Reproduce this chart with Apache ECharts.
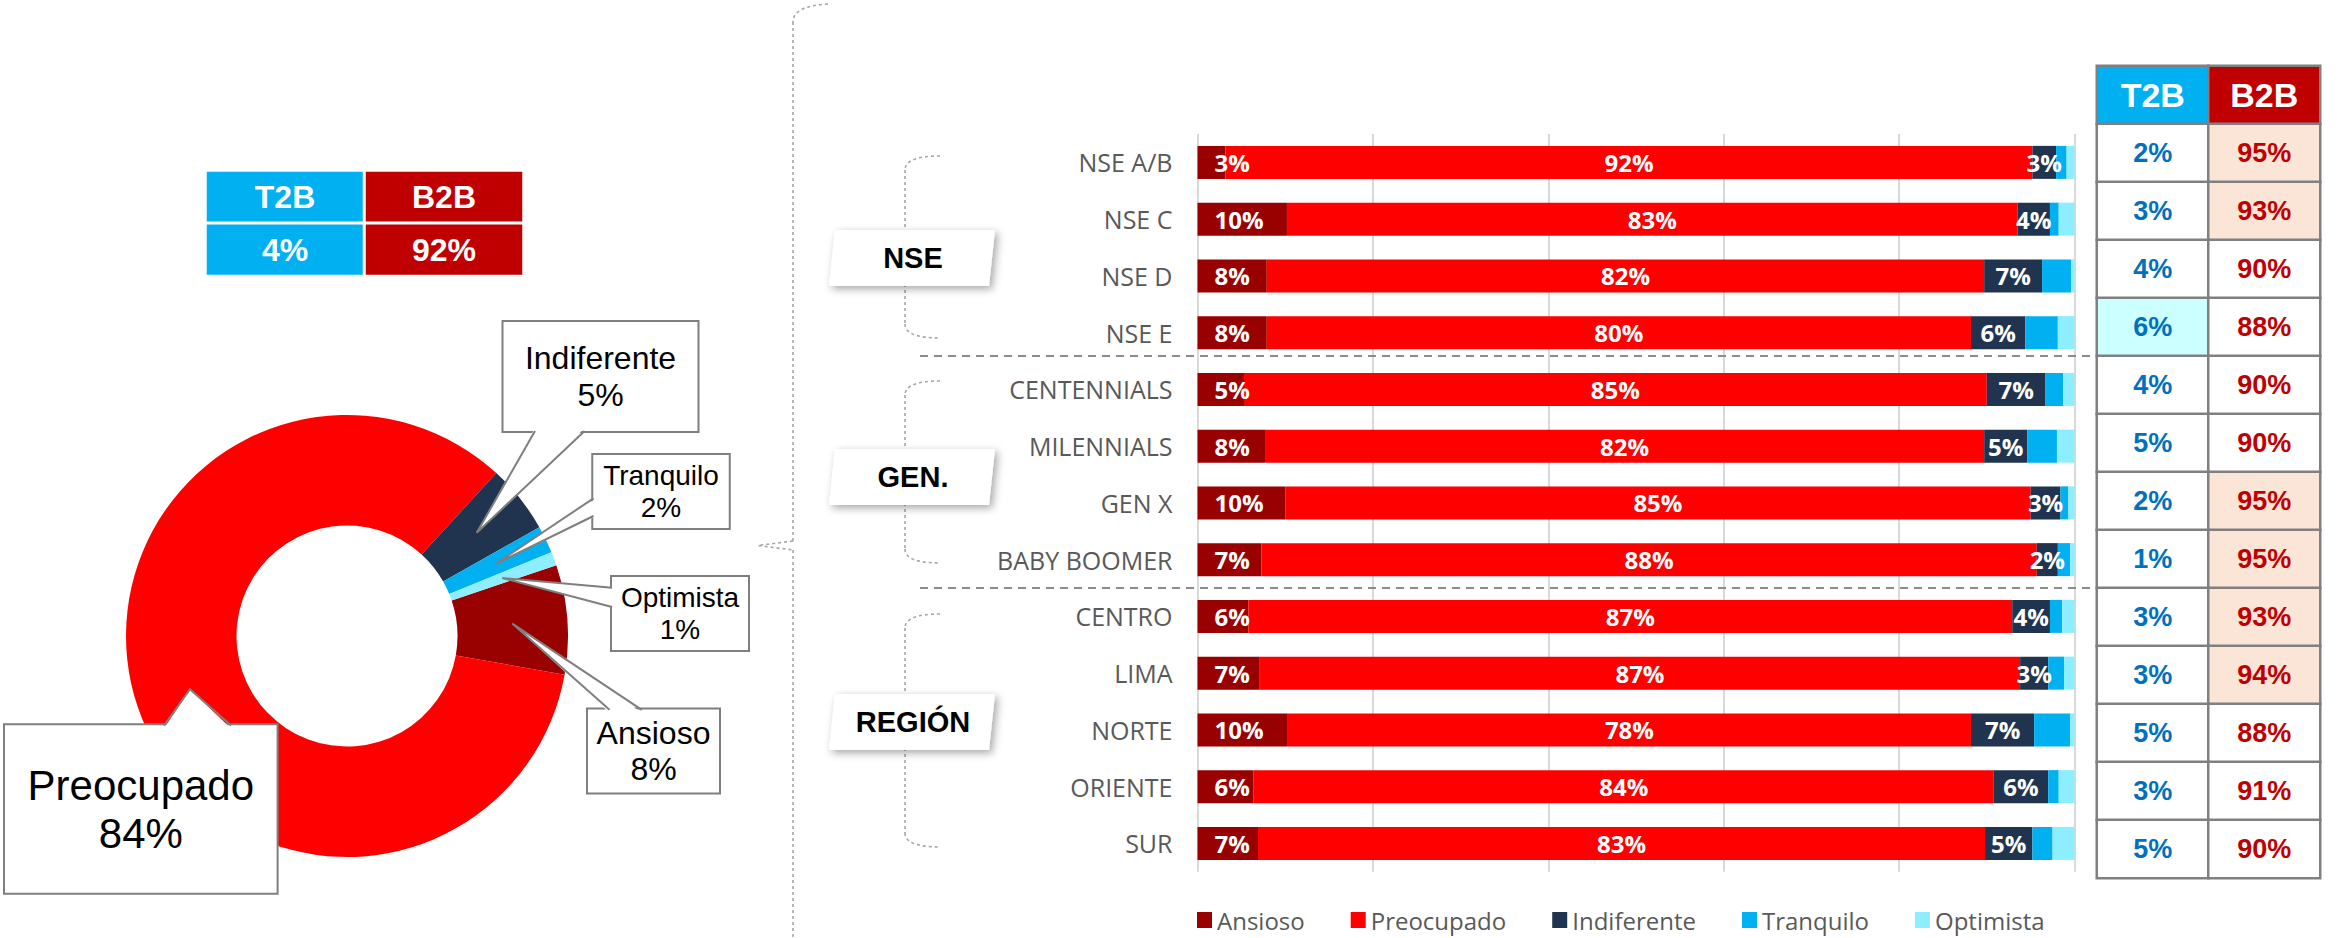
<!DOCTYPE html>
<html><head><meta charset="utf-8">
<script src="https://cdn.jsdelivr.net/npm/echarts@6/dist/echarts.min.js"></script>
<style>html,body{margin:0;padding:0;background:#fff}#c{width:2339px;height:938px}</style>
</head><body><div id="c"></div>
<script>
// ---------------- DATA ----------------
const categories = ['NSE A/B','NSE C','NSE D','NSE E','CENTENNIALS','MILENNIALS','GEN X','BABY BOOMER','CENTRO','LIMA','NORTE','ORIENTE','SUR'];
const seriesNames = ['Ansioso','Preocupado','Indiferente','Tranquilo','Optimista'];
const ansioso     = [3.2,10.2,7.9,7.9,5.3,7.7,10.0,7.3,5.8,7.1,10.3,6.4,6.9];
const preocupado  = [92.0,83.3,81.8,80.3,84.7,82.0,85.0,88.4,87.1,86.7,77.9,84.4,82.9];
const indiferente = [2.7,3.7,6.6,6.2,6.7,4.9,3.4,2.4,4.3,3.2,7.2,6.2,5.4];
const tranquilo   = [1.2,1.0,3.3,3.7,2.0,3.4,0.9,1.4,1.4,1.8,4.1,1.2,2.3];
const optimista   = [0.9,1.8,0.4,1.9,1.3,2.0,0.7,0.5,1.4,1.2,0.5,1.8,2.5];
const tableCols = ['T2B','B2B'];
const t2b = [2,3,4,6,4,5,2,1,3,3,5,3,5];
const b2b = [95,93,90,88,90,90,95,95,93,94,88,91,90];
const pieValues = [8,84,5,2,1];
const totalSummary = [4,92];
const groupNames = ['NSE','GEN.','REGIÓN'];

// ---------------- LAYOUT / STYLE ----------------
const colors = {Ansioso:'#990000', Preocupado:'#FF0000', Indiferente:'#203450', Tranquilo:'#00B0F0', Optimista:'#8DEEFF'};
const BAR = {left:1197.5, top:134, width:877, height:737.75};
const TAB = {left:2097, top:66, width:223, rowH:58};
const SUM = {left:205.5, top:170.5, width:318, height:105.5};
const PIE = {cx:347, cy:636, r0:110.5, r:221, start:18.7};
const callouts = [
  {cx:653.5, cy:751,   w:131,   h:83,    fs:32, lh:36, base:[[609.5,709.8],[641.8,709.8]], dir:'top'},
  {cx:140.8, cy:809,   w:271.6, h:167.4, fs:42, lh:48, base:[[164,725.6],[231,725.6]],     dir:'top'},
  {cx:600.5, cy:376.5, w:194,   h:109,   fs:32, lh:37, base:[[535,431],[584.6,431]],       dir:'bottom'},
  {cx:661,   cy:491.4, w:135.5, h:73,    fs:28, lh:32, base:[[593.5,498.3],[593.5,516]],   dir:'left'},
  {cx:680,   cy:613.4, w:136,   h:73,    fs:28, lh:32, base:[[612,587.8],[612,607]],       dir:'left'}
];
const groupLayout = [
  {cy:258, top:156, bottom:338},
  {cy:477, top:381, bottom:563},
  {cy:722, top:614, bottom:847}
];
const separatorsAfterRows = [4,8];

const seriesVals = [ansioso, preocupado, indiferente, tranquilo, optimista];
const chart = echarts.init(document.getElementById('c'), null, {renderer:'svg'});

// bar series
const barSeries = seriesNames.map((n, si) => ({
  type:'bar', name:n, stack:'s', data:seriesVals[si], barWidth:33,
  xAxisIndex:0, yAxisIndex:0,
  itemStyle:{color:colors[n]},
  emphasis:{disabled:true},
  label: si < 3 ? {
    show:true, position: si === 0 ? 'insideLeft' : 'inside', distance: si === 0 ? 17 : 5,
    formatter: p => Math.round(p.value) + '%',
    color:'#fff', fontWeight:'bold', fontSize:24, fontFamily:'Open Sans'
  } : {show:false}
}));

// right table (heatmap cells)
const maxT2B = Math.max(...t2b);
const tableData = [];
tableCols.forEach((c, ci) => {
  tableData.push({value:[ci,0,0], txt:c, itemStyle:{color: ci === 0 ? '#00B0F0' : '#C00000'},
    label:{color:'#fff', fontSize:34}});
});
categories.forEach((cat, ri) => {
  tableData.push({value:[0,ri+1,t2b[ri]], txt:t2b[ri]+'%',
    itemStyle:{color: t2b[ri] === maxT2B ? '#CCFFFF' : '#FFFFFF'}, label:{color:'#0070C0', fontSize:27}});
  tableData.push({value:[1,ri+1,b2b[ri]], txt:b2b[ri]+'%',
    itemStyle:{color: b2b[ri] >= 93 ? '#FBE5D6' : '#FFFFFF'}, label:{color:'#C00000', fontSize:27}});
});

// left summary table
const sumData = [];
tableCols.forEach((c, ci) => {
  const bg = ci === 0 ? '#00B0F0' : '#C00000';
  sumData.push({value:[ci,0,0], txt:c, itemStyle:{color:bg}});
  sumData.push({value:[ci,1,totalSummary[ci]], txt:totalSummary[ci]+'%', itemStyle:{color:bg}});
});

// graphic decorations
const graphics = [];
const dotted = {stroke:'#a6a6a6', lineWidth:1.6, lineDash:[3,3], fill:null};
// separators
separatorsAfterRows.forEach(k => {
  const y = TAB.top + TAB.rowH * (1 + k);
  graphics.push({type:'line', z:1, shape:{x1:920, y1:y, x2:2312, y2:y}, style:{stroke:'#8c8c8c', lineWidth:2, lineDash:[8,6]}});
});
// big brace
graphics.push({type:'bezierCurve', z:5, shape:{x1:828, y1:4, cpx1:793, cpy1:6, x2:793, y2:22}, style:dotted});
graphics.push({type:'line', z:5, shape:{x1:793, y1:22, x2:793, y2:541}, style:dotted});
graphics.push({type:'polyline', z:5, shape:{points:[[793,541],[758,545.5],[793,550]]}, style:dotted});
graphics.push({type:'line', z:5, shape:{x1:793, y1:550, x2:793, y2:938}, style:dotted});
// group brackets + boxes
groupNames.forEach((g, gi) => {
  const L = groupLayout[gi];
  const bx = 905, hx = 940;
  graphics.push({type:'bezierCurve', z:5, shape:{x1:hx, y1:L.top, cpx1:bx, cpy1:L.top, x2:bx, y2:L.top+14}, style:dotted});
  graphics.push({type:'line', z:5, shape:{x1:bx, y1:L.top+14, x2:bx, y2:L.bottom-14}, style:dotted});
  graphics.push({type:'bezierCurve', z:5, shape:{x1:bx, y1:L.bottom-14, cpx1:bx, cpy1:L.bottom, x2:hx, y2:L.bottom}, style:dotted});
  const cx = 912, cy = L.cy;
  graphics.push({type:'polygon', z:10, shape:{points:[[cx-77,cy-28],[cx+83,cy-28],[cx+77,cy+28],[cx-83,cy+28]]},
    style:{fill:'#fff', shadowBlur:8, shadowColor:'rgba(0,0,0,0.35)', shadowOffsetX:3, shadowOffsetY:3}});
  graphics.push({type:'text', z:11, style:{text:g, x:cx+1, y:cy, align:'center', verticalAlign:'middle',
    textAlign:'center', textVerticalAlign:'middle', font:'bold 29px "Liberation Sans", Arial, sans-serif', fill:'#000'}});
});
// callout pointers (tip at slice mid-angle, mid-radius)
const pieTotal = pieValues.reduce((a,b)=>a+b,0);
let cum = 0;
const s0 = 90 - PIE.start;
pieValues.forEach((v, i) => {
  const mid = (s0 + (cum + v/2) / pieTotal * 360) * Math.PI / 180;
  cum += v;
  const rm = (PIE.r0 + PIE.r) / 2;
  const tip = [PIE.cx + rm*Math.sin(mid), PIE.cy - rm*Math.cos(mid)];
  const c = callouts[i];
  const inset = c.dir === 'top' ? [0,3] : c.dir === 'bottom' ? [0,-3] : [3,0];
  const b1 = [c.base[0][0]+inset[0], c.base[0][1]+inset[1]];
  const b2 = [c.base[1][0]+inset[0], c.base[1][1]+inset[1]];
  graphics.push({type:'polygon', z:100, shape:{points:[b1, tip, b2]}, style:{fill:'#fff', stroke:null}});
  graphics.push({type:'polyline', z:101, shape:{points:[c.base[0], tip, c.base[1]]}, style:{stroke:'#7f7f7f', lineWidth:2, fill:null}});
});

const option = {
  animation:false,
  backgroundColor:'#fff',
  grid:[
    {left:BAR.left, top:BAR.top, width:BAR.width, height:BAR.height, containLabel:false},
    {left:TAB.left, top:TAB.top, width:TAB.width, height:TAB.rowH*(categories.length+1), containLabel:false},
    {left:SUM.left, top:SUM.top, width:SUM.width, height:SUM.height, containLabel:false}
  ],
  xAxis:[
    {gridIndex:0, type:'value', min:0, max:100, interval:20, axisLabel:{show:false}, axisLine:{show:false}, axisTick:{show:false},
      splitLine:{show:true, lineStyle:{color:'#d9d9d9', width:2}}},
    {gridIndex:1, type:'category', data:tableCols, show:false},
    {gridIndex:2, type:'category', data:tableCols, show:false}
  ],
  yAxis:[
    {gridIndex:0, type:'category', data:categories, inverse:true, axisLine:{show:false}, axisTick:{show:false},
      axisLabel:{color:'#595959', fontSize:25, fontFamily:'Open Sans', margin:25}},
    {gridIndex:1, type:'category', data:['hdr'].concat(categories), inverse:true, show:false},
    {gridIndex:2, type:'category', data:['hdr','val'], inverse:true, show:false}
  ],
  legend:{
    data:seriesNames, left:1197, top:908, padding:0, itemWidth:15, itemHeight:16, itemGap:46, icon:'rect',
    selectedMode:false, textStyle:{color:'#595959', fontSize:24, fontFamily:'Open Sans'}
  },
  series: barSeries.concat([
    {type:'heatmap', xAxisIndex:1, yAxisIndex:1, data:tableData, silent:true,
      itemStyle:{borderColor:'#808080', borderWidth:2.5}, emphasis:{disabled:true},
      label:{show:true, formatter:p => p.data.txt, fontFamily:'"Liberation Sans", Arial, sans-serif', fontWeight:'bold'}},
    {type:'heatmap', xAxisIndex:2, yAxisIndex:2, data:sumData, silent:true,
      itemStyle:{borderColor:'#ffffff', borderWidth:3}, emphasis:{disabled:true},
      label:{show:true, formatter:p => p.data.txt, color:'#fff', fontSize:32, fontFamily:'"Liberation Sans", Arial, sans-serif', fontWeight:'bold'}},
    {type:'pie', name:'total', center:[PIE.cx, PIE.cy], radius:[PIE.r0, PIE.r], startAngle:PIE.start, clockwise:true,
      avoidLabelOverlap:false, silent:true, emphasis:{disabled:true}, z:2,
      data: seriesNames.map((n, i) => ({
        name:n, value:pieValues[i], itemStyle:{color:colors[n]},
        label:{fontSize:callouts[i].fs, lineHeight:callouts[i].lh, width:callouts[i].w,
          padding:[(callouts[i].h - 2*callouts[i].lh)/2, 0]}
      })),
      label:{show:true, position:'outside', formatter:'{b}\n{c}%', color:'#000',
        fontFamily:'"Liberation Sans", Arial, sans-serif', backgroundColor:'#fff', borderColor:'#7f7f7f', borderWidth:2, align:'center'},
      labelLine:{show:false},
      labelLayout: p => ({x:callouts[p.dataIndex].cx, y:callouts[p.dataIndex].cy, align:'center', verticalAlign:'middle'})
    }
  ]),
  graphic:{elements:graphics}
};
chart.setOption(option);
</script></body></html>
